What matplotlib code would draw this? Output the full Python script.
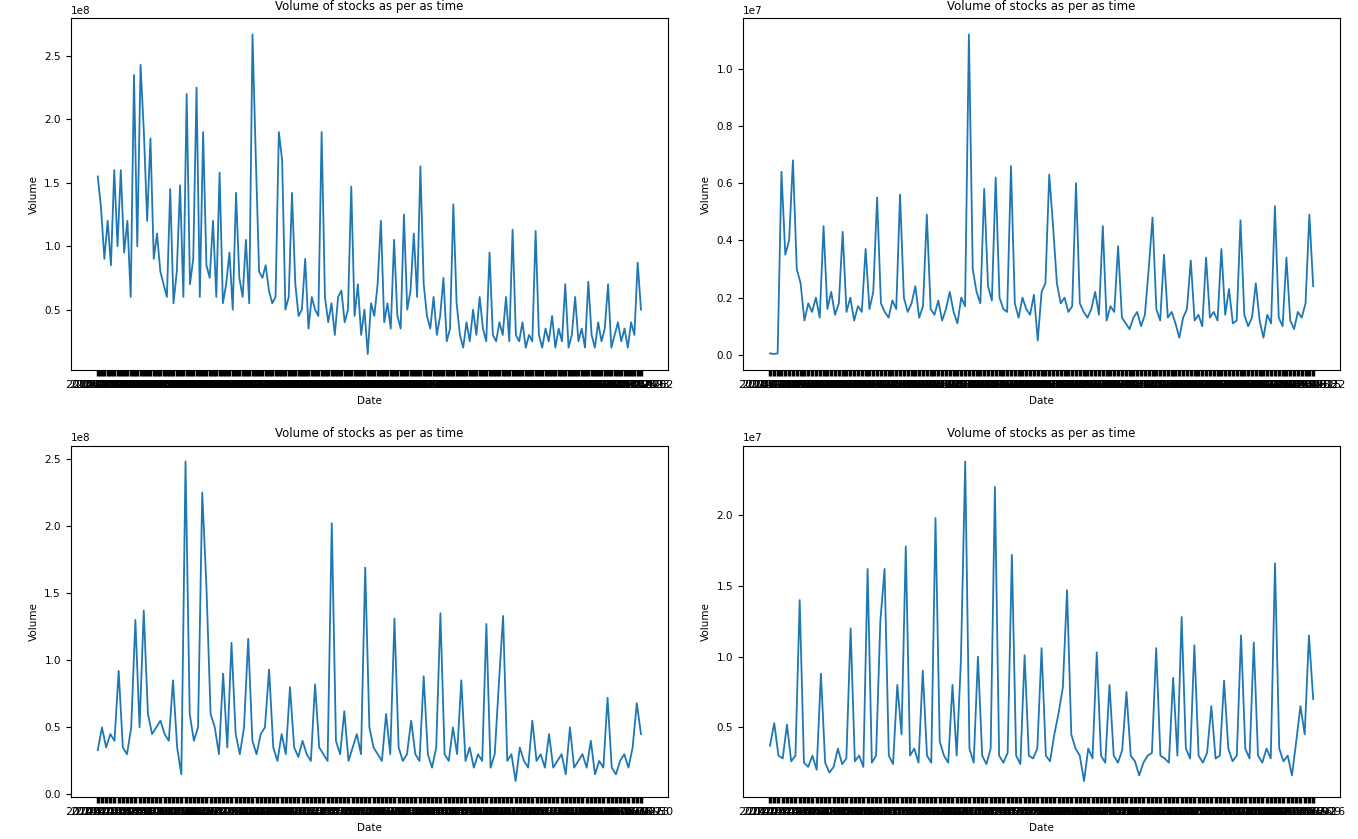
import pandas as pd
from matplotlib import pyplot as plt

# volume series (coarse samples)
vol_a = [1.55, 1.3, 0.9, 1.2, 0.85, 1.6, 1.0, 1.6, 0.95, 1.2, 0.6, 2.35, 1.0, 2.43, 1.9, 1.2, 1.85, 0.9, 1.1, 0.8,
         0.7, 0.6, 1.45, 0.55, 0.8, 1.48, 0.6, 2.2, 0.7, 0.9, 2.25, 0.6, 1.9, 0.85, 0.75, 1.2, 0.6, 1.58, 0.55, 0.7,
         0.95, 0.5, 1.42, 0.75, 0.6, 1.05, 0.55, 2.67, 1.7, 0.8, 0.75, 0.85, 0.65, 0.55, 0.6, 1.9, 1.68, 0.5, 0.6, 1.42,
         0.7, 0.45, 0.5, 0.9, 0.35, 0.6, 0.5, 0.45, 1.9, 0.6, 0.4, 0.55, 0.3, 0.6, 0.65, 0.4, 0.5, 1.47, 0.45, 0.7,
         0.3, 0.5, 0.15, 0.55, 0.45, 0.7, 1.2, 0.4, 0.55, 0.35, 1.05, 0.45, 0.35, 1.25, 0.5, 0.65, 1.1, 0.6, 1.63, 0.7,
         0.45, 0.35, 0.6, 0.3, 0.45, 0.75, 0.25, 0.35, 1.33, 0.55, 0.3, 0.2, 0.4, 0.25, 0.5, 0.3, 0.6, 0.35, 0.25, 0.95,
         0.3, 0.25, 0.4, 0.3, 0.6, 0.25, 1.13, 0.3, 0.25, 0.4, 0.2, 0.3, 0.25, 1.12, 0.3, 0.2, 0.35, 0.25, 0.45, 0.2,
         0.35, 0.25, 0.7, 0.2, 0.3, 0.6, 0.25, 0.35, 0.2, 0.72, 0.3, 0.2, 0.4, 0.25, 0.35, 0.7, 0.2, 0.3, 0.4, 0.25,
         0.35, 0.2, 0.4, 0.3, 0.87, 0.5]
vol_b = [0.05, 0.03, 0.05, 6.4, 3.5, 4.0, 6.8, 3.0, 2.5, 1.2, 1.8, 1.5, 2.0, 1.3, 4.5, 1.6, 2.2, 1.4, 1.8, 4.3,
         1.5, 2.0, 1.2, 1.7, 1.5, 3.7, 1.6, 2.2, 5.5, 1.8, 1.5, 1.3, 1.9, 1.6, 5.6, 2.0, 1.5, 1.8, 2.4, 1.3,
         1.7, 4.9, 1.6, 1.4, 1.9, 1.2, 1.6, 2.2, 1.5, 1.1, 2.0, 1.7, 11.2, 3.0, 2.2, 1.8, 5.8, 2.4, 1.9, 6.2,
         2.0, 1.6, 1.5, 6.6, 1.8, 1.3, 2.0, 1.6, 1.4, 2.1, 0.5, 2.2, 2.5, 6.3, 4.5, 2.5, 1.8, 2.0, 1.5, 1.7,
         6.0, 1.8, 1.5, 1.3, 1.6, 2.2, 1.4, 4.5, 1.2, 1.7, 1.5, 3.8, 1.3, 1.1, 0.9, 1.3, 1.5, 1.0, 1.4, 3.0,
         4.8, 1.6, 1.2, 3.5, 1.3, 1.5, 1.1, 0.6, 1.3, 1.6, 3.3, 1.2, 1.4, 1.0, 3.4, 1.3, 1.5, 1.2, 3.7, 1.4,
         2.3, 1.1, 1.2, 4.7, 1.4, 1.0, 1.3, 2.5, 1.2, 0.6, 1.4, 1.1, 5.2, 1.3, 1.0, 3.4, 1.2, 0.9, 1.5, 1.3,
         1.8, 4.9, 2.4]
vol_c = [0.33, 0.5, 0.35, 0.45, 0.4, 0.92, 0.35, 0.3, 0.5, 1.3, 0.5, 1.37, 0.6, 0.45, 0.5, 0.55, 0.45, 0.4, 0.85, 0.35,
         0.15, 2.48, 0.6, 0.4, 0.5, 2.25, 1.55, 0.6, 0.5, 0.3, 0.9, 0.35, 1.13, 0.45, 0.3, 0.5, 1.16, 0.4, 0.3, 0.45,
         0.5, 0.93, 0.35, 0.25, 0.45, 0.3, 0.8, 0.35, 0.28, 0.4, 0.3, 0.25, 0.82, 0.35, 0.3, 0.25, 2.02, 0.4, 0.3, 0.62,
         0.25, 0.35, 0.45, 0.3, 1.69, 0.5, 0.35, 0.3, 0.25, 0.6, 0.3, 1.31, 0.35, 0.25, 0.3, 0.55, 0.3, 0.25, 0.88, 0.3,
         0.2, 0.35, 1.35, 0.3, 0.25, 0.5, 0.3, 0.85, 0.25, 0.35, 0.2, 0.3, 0.25, 1.27, 0.2, 0.3, 0.83, 1.33, 0.25, 0.3,
         0.1, 0.35, 0.25, 0.2, 0.55, 0.25, 0.3, 0.2, 0.45, 0.2, 0.25, 0.3, 0.15, 0.5, 0.2, 0.25, 0.3, 0.2, 0.4, 0.15,
         0.25, 0.2, 0.72, 0.2, 0.15, 0.25, 0.3, 0.2, 0.35, 0.68, 0.45]
vol_d = [3.7, 5.3, 3.0, 2.8, 5.2, 2.6, 3.0, 14.0, 2.5, 2.2, 3.0, 2.0, 8.8, 2.5, 1.8, 2.2, 3.5, 2.4, 2.8, 12.0,
         2.6, 3.0, 2.2, 16.2, 2.5, 3.0, 12.5, 16.2, 3.0, 2.4, 8.0, 4.5, 17.8, 3.0, 3.5, 2.5, 9.0, 3.0, 2.5, 19.8,
         4.0, 3.0, 2.5, 8.0, 3.0, 9.8, 23.8, 3.5, 2.5, 10.0, 3.0, 2.4, 3.5, 22.0, 3.0, 2.5, 3.2, 17.2, 3.0, 2.4,
         10.1, 3.0, 2.8, 3.5, 10.6, 3.0, 2.6, 4.5, 6.0, 7.8, 14.7, 4.5, 3.5, 3.0, 1.2, 3.5, 2.8, 10.3, 3.0, 2.5,
         8.0, 3.0, 2.5, 3.4, 7.5, 3.0, 2.6, 1.6, 2.5, 3.0, 3.2, 10.6, 3.0, 2.8, 2.5, 8.5, 3.0, 12.8, 3.5, 2.8,
         10.8, 3.0, 2.5, 3.2, 6.5, 2.8, 3.0, 8.3, 3.5, 2.6, 3.0, 11.5, 3.5, 2.8, 11.0, 3.0, 2.5, 3.5, 2.8, 16.6,
         3.5, 2.6, 3.0, 1.6, 4.0, 6.5, 4.5, 11.5, 7.0]

values = [(vol_a, 1e8), (vol_b, 1e6), (vol_c, 1e8), (vol_d, 1e6)]

plt.rcParams["font.size"] = 7.5
fig, axes = plt.subplots(2, 2, figsize=(13.58, 8.39), dpi=100)
fig.subplots_adjust(left=0.052, right=0.987, top=0.978, bottom=0.05, hspace=0.215, wspace=0.125)

for ax, (vals, scale) in zip(axes.flat, values):
    dates = [d.strftime("%Y-%m-%d") for d in pd.date_range("2014-01-02", periods=len(vals), freq="7D")]
    ax.plot(dates, [v * scale for v in vals], c="#1f77b4", lw=1.3)
    ax.set_title("Volume of stocks as per as time", fontsize=8.5)
    ax.set_xlabel("Date")
    ax.set_ylabel("Volume")
    ax.tick_params(axis="x", labelsize=8, width=2.5, length=4)
    ax.tick_params(axis="y", labelsize=7.5)

fig.savefig("out.png")
